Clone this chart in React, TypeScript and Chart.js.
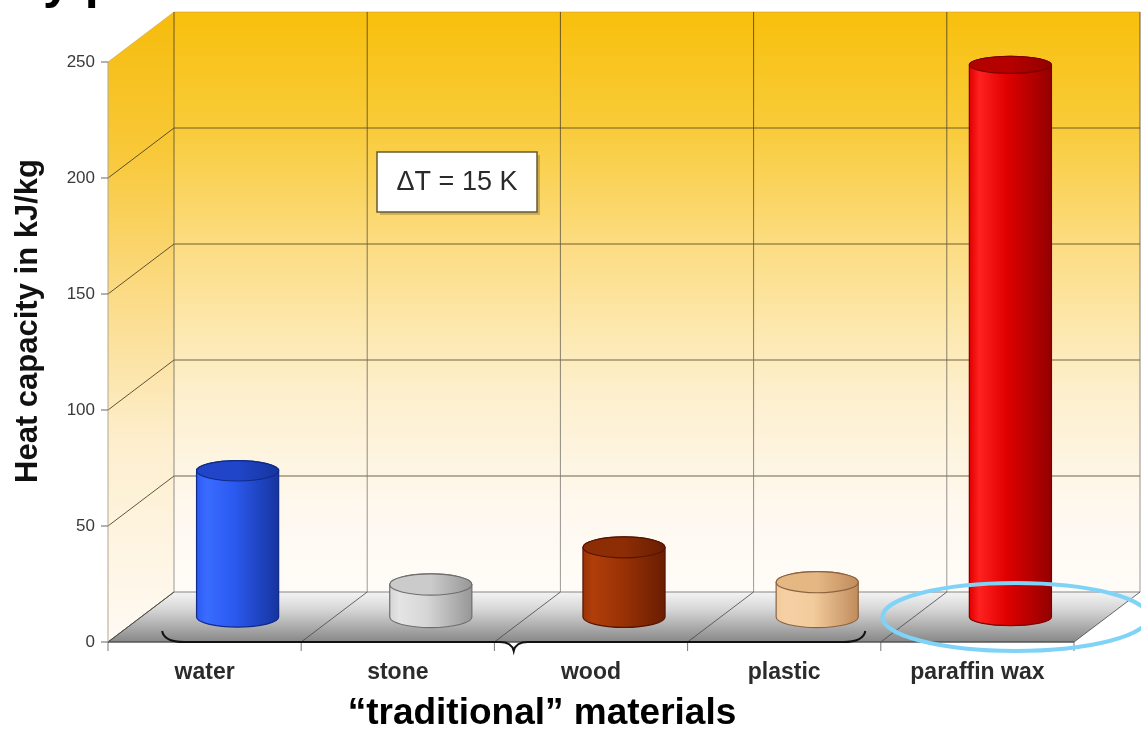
import React, { useEffect, useRef } from 'react';
import { Chart, registerables } from 'chart.js';

Chart.register(...registerables);

// ---------- data ----------
const categories = ['water', 'stone', 'wood', 'plastic', 'paraffin wax'];
const heatCapacity = [63, 14, 30, 15, 238];
const yTickValues = [0, 50, 100, 150, 200, 250];
const yAxisTitle = 'Heat capacity in kJ/kg';
const groupLabel = '\u201Ctraditional\u201D materials';
const annotationText = '\u0394T = 15 K';
const slideTitleFragment = 'y p';

// ---------- styles ----------
const FONT = '"Liberation Sans", Arial, Helvetica, sans-serif';
const DX = 66;
const DY = -50;
const cylinderStyles = [
  { left: '#3a6bff', mid: '#2b5af0', dark: '#16349e', top: '#2145c8', rim: '#0f2a8a' },
  { left: '#e4e4e4', mid: '#d6d6d6', dark: '#979797', top: '#cbcbcb', rim: '#6e6e6e' },
  { left: '#b03e0a', mid: '#9c3306', dark: '#6a1d02', top: '#8c2d06', rim: '#561500' },
  { left: '#f6d0a4', mid: '#f3cb9c', dark: '#c08c5c', top: '#e4b783', rim: '#8c6342' },
  { left: '#ff2020', mid: '#e00000', dark: '#930000', top: '#b50000', rim: '#7a0000' },
];

function drawCylinder(ctx: CanvasRenderingContext2D, cx: number, yTop: number, yBase: number, w: number, ry: number, st: any) {
  const x0 = cx - w / 2;
  const x1 = cx + w / 2;
  const g = ctx.createLinearGradient(x0, 0, x1, 0);
  g.addColorStop(0, st.mid);
  g.addColorStop(0.12, st.left);
  g.addColorStop(0.45, st.mid);
  g.addColorStop(1, st.dark);
  ctx.beginPath();
  ctx.moveTo(x0, yTop);
  ctx.lineTo(x0, yBase);
  ctx.ellipse(cx, yBase, w / 2, ry, 0, Math.PI, 0, true);
  ctx.lineTo(x1, yTop);
  ctx.ellipse(cx, yTop, w / 2, ry, 0, 0, Math.PI, true);
  ctx.closePath();
  ctx.fillStyle = g;
  ctx.fill();
  ctx.lineWidth = 1.2;
  ctx.strokeStyle = st.rim;
  ctx.stroke();
  // top cap
  ctx.beginPath();
  ctx.ellipse(cx, yTop, w / 2, ry, 0, 0, Math.PI * 2);
  const tg = ctx.createLinearGradient(x0, 0, x1, 0);
  tg.addColorStop(0, st.top);
  tg.addColorStop(0.5, st.top);
  tg.addColorStop(1, st.dark);
  ctx.fillStyle = tg;
  ctx.fill();
  ctx.lineWidth = 1.2;
  ctx.strokeStyle = st.rim;
  ctx.stroke();
}

const scenePlugin = {
  id: 'scene3d',
  beforeDraw(chart: any) {
    const { ctx, chartArea: ca, scales } = chart;
    const ys = scales.y;
    const L = ca.left, R = ca.right, T = ca.top, B = ca.bottom;
    const n = categories.length;
    const cw = (R - L) / n;
    const topVal = yTickValues[yTickValues.length - 1];
    ctx.save();

    // back wall
    const bg = ctx.createLinearGradient(0, T + DY, 0, B + DY);
    bg.addColorStop(0, '#f8c00c');
    bg.addColorStop(0.2, '#f9cb3a');
    bg.addColorStop(0.42, '#fcde88');
    bg.addColorStop(0.65, '#fdefcc');
    bg.addColorStop(0.85, '#fef8ee');
    bg.addColorStop(1, '#fffcf8');
    ctx.fillStyle = bg;
    ctx.fillRect(L + DX, T + DY, R - L, B - T);

    // left wall
    const lg = ctx.createLinearGradient(0, T + DY, 0, B);
    lg.addColorStop(0, '#f6bc0c');
    lg.addColorStop(0.22, '#f8c838');
    lg.addColorStop(0.45, '#fbdb86');
    lg.addColorStop(0.68, '#fdeecd');
    lg.addColorStop(1, '#fffaf4');
    ctx.fillStyle = lg;
    ctx.beginPath();
    ctx.moveTo(L, T);
    ctx.lineTo(L + DX, T + DY);
    ctx.lineTo(L + DX, B + DY);
    ctx.lineTo(L, B);
    ctx.closePath();
    ctx.fill();

    // floor
    const fg = ctx.createLinearGradient(0, B + DY, 0, B);
    fg.addColorStop(0, '#f4f4f4');
    fg.addColorStop(0.35, '#d6d6d6');
    fg.addColorStop(1, '#878787');
    ctx.fillStyle = fg;
    ctx.beginPath();
    ctx.moveTo(L, B);
    ctx.lineTo(L + DX, B + DY);
    ctx.lineTo(R + DX, B + DY);
    ctx.lineTo(R, B);
    ctx.closePath();
    ctx.fill();

    // grid lines
    ctx.lineWidth = 1;
    for (const v of yTickValues) {
      const py = ys.getPixelForValue(v);
      const isTop = v === topVal;
      ctx.strokeStyle = v === 0 ? 'rgba(120,120,120,0.9)' : isTop ? 'rgba(200,160,60,0.55)' : 'rgba(80,64,30,0.8)';
      ctx.beginPath();
      ctx.moveTo(L + DX, py + DY);
      ctx.lineTo(R + DX, py + DY);
      ctx.stroke();
      ctx.strokeStyle = isTop ? 'rgba(200,160,60,0.55)' : 'rgba(70,58,30,0.85)';
      ctx.beginPath();
      ctx.moveTo(L, py);
      ctx.lineTo(L + DX, py + DY);
      ctx.stroke();
    }
    for (let i = 0; i <= n; i++) {
      const bx = L + i * cw;
      const wg = ctx.createLinearGradient(0, T + DY, 0, B + DY);
      wg.addColorStop(0, 'rgba(80,64,30,0.85)');
      wg.addColorStop(1, 'rgba(130,130,130,0.8)');
      ctx.strokeStyle = wg;
      ctx.beginPath();
      ctx.moveTo(bx + DX, T + DY);
      ctx.lineTo(bx + DX, B + DY);
      ctx.stroke();
      ctx.strokeStyle = 'rgba(70,70,70,0.8)';
      ctx.beginPath();
      ctx.moveTo(bx, B);
      ctx.lineTo(bx + DX, B + DY);
      ctx.stroke();
      // x tick marks
      ctx.strokeStyle = '#777';
      ctx.beginPath();
      ctx.moveTo(bx, B);
      ctx.lineTo(bx, B + 9);
      ctx.stroke();
    }
    // front axis
    ctx.strokeStyle = '#b0a890';
    ctx.beginPath();
    ctx.moveTo(L, T);
    ctx.lineTo(L, B);
    ctx.stroke();
    for (const v of yTickValues) {
      const py = ys.getPixelForValue(v);
      ctx.strokeStyle = '#666';
      ctx.beginPath();
      ctx.moveTo(L - 7, py);
      ctx.lineTo(L, py);
      ctx.stroke();
    }
    // front floor edge
    ctx.strokeStyle = '#555';
    ctx.lineWidth = 1.5;
    ctx.beginPath();
    ctx.moveTo(L, B);
    ctx.lineTo(R, B);
    ctx.stroke();
    ctx.restore();
  },
  afterDatasetsDraw(chart: any) {
    const { ctx, chartArea: ca, scales } = chart;
    const xs = scales.x;
    const L = ca.left, R = ca.right, T = ca.top, B = ca.bottom;
    const cw = (R - L) / categories.length;
    const meta = chart.getDatasetMeta(0);
    ctx.save();
    meta.data.forEach((bar: any, i: number) => {
      const p = bar.getProps(['x', 'y', 'base', 'width'], true);
      const cx = p.x + DX / 2;
      const yTop = p.y + DY / 2;
      const yBase = p.base + DY / 2;
      const ry = 8.5 + 2.2 * (yTop - (T + DY / 2)) / (B - T);
      drawCylinder(ctx, cx, yTop, yBase, p.width, ry, cylinderStyles[i]);
    });

    // brace under traditional materials
    const bx0 = xs.getPixelForValue(0) - 0.22 * cw;
    const bx1 = xs.getPixelForValue(3) + 0.42 * cw;
    const bm = (bx0 + bx1) / 2;
    const by = B;
    ctx.strokeStyle = '#111';
    ctx.lineWidth = 2;
    ctx.beginPath();
    ctx.moveTo(bx0, by - 11);
    ctx.quadraticCurveTo(bx0 + 2, by, bx0 + 22, by);
    ctx.lineTo(bm - 14, by);
    ctx.quadraticCurveTo(bm - 2, by, bm, by + 9);
    ctx.quadraticCurveTo(bm + 2, by, bm + 14, by);
    ctx.lineTo(bx1 - 22, by);
    ctx.quadraticCurveTo(bx1 - 2, by, bx1, by - 11);
    ctx.stroke();

    // highlight ellipse around paraffin wax
    ctx.strokeStyle = '#7fd3f7';
    ctx.lineWidth = 4;
    ctx.beginPath();
    ctx.ellipse(xs.getPixelForValue(4) + 38, B - 25, 133, 34, 0, 0, Math.PI * 2);
    ctx.stroke();

    // annotation box
    const ax = L + 269, ay = T + 90, aw = 160, ah = 60;
    ctx.fillStyle = 'rgba(120,100,40,0.35)';
    ctx.fillRect(ax + 3, ay + 3, aw, ah);
    ctx.fillStyle = '#ffffff';
    ctx.fillRect(ax, ay, aw, ah);
    ctx.strokeStyle = '#6a5a32';
    ctx.lineWidth = 1.5;
    ctx.strokeRect(ax, ay, aw, ah);
    ctx.fillStyle = '#2a2a2a';
    ctx.font = `27px ${FONT}`;
    ctx.textAlign = 'center';
    ctx.textBaseline = 'middle';
    ctx.fillText(annotationText, ax + aw / 2, ay + ah / 2 + 1);
    ctx.restore();
  },
  afterDraw(chart: any) {
    const { ctx } = chart;
    ctx.save();
    // y-axis title
    ctx.translate(28, 321);
    ctx.rotate(-Math.PI / 2);
    ctx.fillStyle = '#111';
    ctx.font = `bold 31px ${FONT}`;
    ctx.textAlign = 'center';
    ctx.textBaseline = 'middle';
    ctx.fillText(yAxisTitle, 0, 0);
    ctx.restore();

    ctx.save();
    ctx.fillStyle = '#000';
    ctx.font = `bold 37px ${FONT}`;
    ctx.textAlign = 'center';
    ctx.textBaseline = 'alphabetic';
    ctx.fillText(groupLabel, 542, 724);
    ctx.font = `bold 50px ${FONT}`;
    ctx.textAlign = 'left';
    ctx.fillText(slideTitleFragment, 43, -2);
    ctx.restore();
  },
};

export default function App() {
  const canvasRef = useRef<HTMLCanvasElement | null>(null);
  useEffect(() => {
    const canvas = canvasRef.current;
    if (!canvas) return;
    const chart = new Chart(canvas, {
      type: 'bar',
      data: {
        labels: categories,
        datasets: [
          {
            data: heatCapacity,
            backgroundColor: 'rgba(0,0,0,0)',
            borderWidth: 0,
            barPercentage: 0.425,
            categoryPercentage: 1,
          },
        ],
      },
      options: {
        responsive: false,
        animation: false,
        events: [],
        layout: { padding: { top: 62, right: 67, left: 0, bottom: 0 } },
        plugins: {
          legend: { display: false },
          tooltip: { enabled: false },
          title: { display: false },
        },
        scales: {
          x: {
            grid: { display: false, drawTicks: false },
            border: { display: false },
            ticks: {
              font: { family: FONT, size: 23, weight: 'bold' },
              color: '#2b2b2b',
              padding: 17,
            },
            afterFit: (s: any) => {
              s.height = 89;
            },
          },
          y: {
            min: 0,
            max: 250,
            afterBuildTicks: (s: any) => {
              s.ticks = yTickValues.map((v) => ({ value: v }));
            },
            grid: { display: false, drawTicks: false },
            border: { display: false },
            ticks: {
              font: { family: FONT, size: 17 },
              color: '#3a3a3a',
              padding: 13,
            },
            afterFit: (s: any) => {
              s.width = 108;
            },
          },
        },
      },
      plugins: [scenePlugin],
    } as any);
    return () => chart.destroy();
  }, []);

  return (
    <div style={{ position: 'absolute', left: 0, top: 0, width: 1141, height: 731, background: '#fff' }}>
      <canvas ref={canvasRef} width={1141} height={731} style={{ display: 'block' }} />
    </div>
  );
}
